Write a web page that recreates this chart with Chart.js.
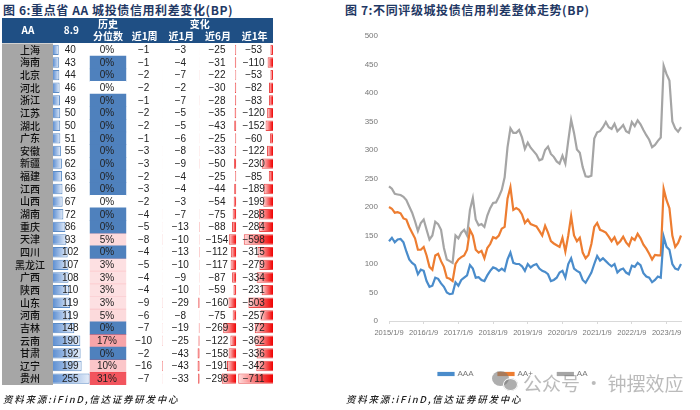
<!DOCTYPE html>
<html lang="zh">
<head>
<meta charset="utf-8">
<title>城投债信用利差</title>
<script src="https://cdn.jsdelivr.net/npm/chart.js@4/dist/chart.umd.js"></script>
<style>
  body { margin: 0; background: #fff; width: 700px; height: 410px; overflow: hidden; position: relative; font-family: "Noto Sans CJK SC", sans-serif; }
  canvas { position: absolute; }
  .titulo { position: absolute; top: 1px; font-size: 12px; font-weight: 700; color: #1f3864; letter-spacing: 0.6px; white-space: nowrap; }
  .fuente { position: absolute; top: 392px; font-size: 9.5px; font-weight: 500; font-style: italic; color: #222; letter-spacing: 1.75px; white-space: nowrap; }
  .marca { position: absolute; left: 523px; top: 369px; font-size: 19px; color: rgba(120,120,120,.5); white-space: nowrap; }
  .burbuja { position: absolute; border-radius: 50%; background: rgba(120,120,120,.6); }
</style>
</head>
<body>
<div class="titulo" style="left:3px">图 6:重点省 AA 城投债信用利差变化(BP)</div>
<div class="titulo" style="left:345px">图 7:不同评级城投债信用利差整体走势(BP)</div>
<canvas id="tabla" width="292" height="400" style="left:0;top:0"></canvas>
<canvas id="lineas" width="399" height="363" style="left:345px;top:25px"></canvas>
<div class="fuente" style="left:3px">资料来源:iFinD,信达证券研发中心</div>
<div class="fuente" style="left:346px">资料来源:iFinD,信达证券研发中心</div>
<div class="burbuja" style="left:492px;top:371px;width:17px;height:15px"></div>
<div class="burbuja" style="left:503px;top:378px;width:15px;height:13px;outline:1px solid #fff;outline-offset:-1px"></div>
<div class="marca">公众号 · 钟摆效应</div>
<script>
// tabla figura 6
const provincias = ["上海","海南","北京","河北","浙江","江苏","湖北","广东","安徽","新疆","福建","江西","山西","湖南","重庆","天津","四川","黑龙江","广西","陕西","山东","河南","吉林","云南","甘肃","辽宁","贵州"];
const spread89 = [40,43,44,46,49,50,50,51,55,62,63,66,67,72,86,93,102,107,108,110,119,119,148,190,192,199,255];
const percentil = [0,0,0,0,0,0,0,0,0,0,0,0,0,0,0,5,0,3,3,3,3,5,0,17,0,10,31];
const sinColor = ["上海","河北","山西"];
const semana1 = [-1,-1,-2,-2,-1,-2,-2,-1,-3,-3,-2,-3,-2,-4,-5,-8,-4,-5,-4,-4,-9,-6,-7,-10,-2,-16,-7];
const mes1 = [-3,-4,-7,-2,-7,-5,-5,-6,-8,-9,-4,-4,-3,-7,-13,-10,-13,-10,-9,-10,-29,-8,-19,-25,-43,-43,-33];
const mes6 = [-25,-31,-22,-30,-28,-35,-43,-25,-33,-50,-25,-44,-54,-75,-88,-154,-112,-117,-87,-59,-160,-75,-269,-122,-158,-191,-298];
const anio1 = [-53,-110,-53,-82,-83,-120,-152,-60,-122,-230,-85,-189,-199,-288,-284,-598,-315,-279,-334,-231,-503,-257,-372,-362,-336,-342,-711];

// grafico figura 7, un punto por mes
const anios = [2015,2016,2017,2018,2019,2020,2021,2022,2023];
const fechas = [];
anios.forEach(a => {
    for (let m = 1; m <= 12; m++) {
        if (a === 2023 && m > 6) break;
        fechas.push(`${a}/${m}/9`);
    }
});
const serieAAA = [140,146,138,143,144,138,122,108,102,98,82,90,88,70,60,62,76,74,66,60,50,47,48,68,62,72,76,80,98,92,76,77,72,70,80,88,94,92,88,92,88,108,120,102,100,100,96,88,100,94,98,100,92,88,86,82,70,72,76,85,88,76,100,110,92,88,85,72,67,76,85,100,114,106,110,105,100,96,100,85,90,92,85,82,97,95,102,98,84,78,76,68,72,78,76,148,130,125,100,92,90,100];
const serieAAmas = [200,197,190,191,189,180,178,165,155,145,125,125,130,115,95,90,115,118,105,95,76,74,70,100,108,112,115,125,160,150,125,120,123,110,128,135,147,145,150,162,165,215,235,195,198,195,187,172,178,170,168,166,158,150,167,155,140,136,133,130,146,122,150,184,150,140,146,120,110,116,135,165,172,160,158,155,148,140,147,135,140,148,138,132,146,142,153,145,134,127,118,108,116,115,115,232,212,198,150,130,137,150];
const serieAA = [236,232,223,222,221,218,212,201,190,175,158,172,178,160,143,150,174,170,160,128,108,105,102,150,145,155,160,150,195,216,178,168,170,165,185,198,207,208,218,230,252,305,338,330,330,335,322,302,313,304,298,292,282,284,300,306,293,288,280,276,290,276,316,353,330,301,295,270,254,253,255,320,331,333,340,349,340,337,346,333,338,344,333,330,349,342,352,345,335,326,318,305,309,316,322,448,433,422,350,338,332,340];

const azulCelda = "#4f81bd";
const primerMes = "1";

function colorCelda(ctx) {
    const i = ctx.dataIndex;
    const p = percentil[i];
    if (p === 0) return sinColor.includes(provincias[i]) ? "#ffffff" : azulCelda;
    return `rgba(240,60,70,${0.12 + 0.75 * Math.pow(p / 31, 1.3)})`;
}

// degradado a lo largo de cada barra
function degradado(colorCero, colorPunta) {
    return ctx => {
        const eje = ctx.chart.scales[ctx.dataset.xAxisID];
        const x0 = eje.getPixelForValue(0);
        const x1 = eje.getPixelForValue(ctx.raw);
        if (!isFinite(x0) || !isFinite(x1)) return colorCero; // todavia sin layout
        const g = ctx.chart.ctx.createLinearGradient(x0, 0, x1, 0);
        g.addColorStop(0, colorCero);
        g.addColorStop(1, colorPunta);
        return g;
    };
}

function ejeColumna(min, max) {
    return {
        type: "linear", stack: "columnas", stackWeight: 1, position: "bottom", min, max,
        ticks: { display: false }, grid: { display: false }, border: { display: false }
    };
}

function barraRoja(datos, eje) {
    return {
        data: datos, xAxisID: eje, grouped: false, barPercentage: 0.82, categoryPercentage: 1,
        backgroundColor: degradado("#f00000", "#ffdcdc"), borderColor: "#e84a4a", borderWidth: 1
    };
}

const columnas = [
    { eje: "x89", datos: spread89 },
    { eje: "xPct", datos: percentil, fmt: v => `${v}%` },
    { eje: "xSem", datos: semana1 },
    { eje: "xMes", datos: mes1 },
    { eje: "x6m", datos: mes6 },
    { eje: "x1a", datos: anio1 }
];

const encabezado = {
    id: "encabezado",
    afterDraw(chart) {
        const c = chart.ctx;
        const s = chart.scales;
        const centro = id => (s[id].left + s[id].right) / 2;
        const area = chart.chartArea;

        c.save();
        c.fillStyle = "#1f4f84";
        c.fillRect(2, 18, area.right - 2, 25);
        c.fillStyle = "#fff";
        c.textAlign = "center";
        c.textBaseline = "middle";
        c.font = '700 10px "Noto Sans CJK SC"';
        c.fillText("AA", 28, 30);
        c.fillText("8.9", centro("x89"), 30);
        c.fillText("历史", centro("xPct"), 24);
        c.fillText("分位数", centro("xPct"), 36);
        c.fillText("变化", (centro("xMes") + centro("x6m")) / 2, 24);
        c.fillText("近1周", centro("xSem"), 36);
        c.fillText("近1月", centro("xMes"), 36);
        c.fillText("近6月", centro("x6m"), 36);
        c.fillText("近1年", centro("x1a"), 36);

        // numeros de cada celda
        c.fillStyle = "#222";
        c.font = '10px "Liberation Sans"';
        columnas.forEach(col => {
            col.datos.forEach((v, i) => {
                const txt = col.fmt ? col.fmt(v) : String(v).replace("-", "\u2212");
                c.fillText(txt, centro(col.eje) - 1, s.y.getPixelForValue(i) + 0.5);
            });
        });
        c.restore();
    }
};

new Chart(document.getElementById("tabla"), {
    type: "bar",
    data: {
        labels: provincias,
        datasets: [
            {
                data: spread89, xAxisID: "x89", grouped: false, barPercentage: 0.82, categoryPercentage: 1,
                backgroundColor: degradado("#5f90d2", "#e6eefa"), borderColor: "#5b8bc5", borderWidth: 1
            },
            {
                data: provincias.map(() => 1), xAxisID: "xPct", grouped: false, barPercentage: 1, categoryPercentage: 1,
                backgroundColor: colorCelda
            },
            barraRoja(semana1, "xSem"),
            barraRoja(mes1, "xMes"),
            barraRoja(mes6, "x6m"),
            barraRoja(anio1, "x1a")
        ]
    },
    options: {
        indexAxis: "y",
        responsive: false,
        animation: false,
        layout: { padding: { left: 2, right: 19, top: 43.5, bottom: 7 } },
        plugins: { legend: { display: false }, tooltip: { enabled: false } },
        scales: {
            y: {
                type: "category",
                backgroundColor: "#a6a6a6",
                grid: { display: false },
                border: { display: false },
                ticks: { color: "#111", font: { family: "Noto Sans CJK SC", size: 10, weight: 500 }, crossAlign: "center", padding: 0, autoSkip: false },
                afterFit(s) { s.width = 51; }
            },
            x89: ejeColumna(0, 255),
            xPct: ejeColumna(0, 1),
            xSem: ejeColumna(-750, 0),
            xMes: ejeColumna(-750, 0),
            x6m: ejeColumna(-750, 0),
            x1a: ejeColumna(-750, 0)
        }
    },
    plugins: [encabezado]
});

new Chart(document.getElementById("lineas"), {
    type: "line",
    data: {
        labels: fechas,
        datasets: [
            { label: "AAA", data: serieAAA, borderColor: "#4a8ccb", backgroundColor: "#4a8ccb", borderWidth: 2.2, pointRadius: 0 },
            { label: "AA+", data: serieAAmas, borderColor: "#ed7d31", backgroundColor: "#ed7d31", borderWidth: 2.2, pointRadius: 0 },
            { label: "AA", data: serieAA, borderColor: "#a5a5a5", backgroundColor: "#a5a5a5", borderWidth: 2.2, pointRadius: 0 }
        ]
    },
    options: {
        responsive: false,
        animation: false,
        layout: { padding: { top: 11, right: 63, bottom: 0 } },
        plugins: {
            tooltip: { enabled: false },
            legend: {
                position: "bottom",
                labels: { boxWidth: 15, boxHeight: 2, padding: 25, color: "#777", font: { family: "Liberation Sans Narrow, Liberation Sans", size: 8 } }
            }
        },
        scales: {
            x: {
                grid: {
                    drawOnChartArea: false, tickLength: 3,
                    color: ctx => ctx.tick && fechas[ctx.index].split("/")[1] === primerMes ? "#d9d9d9" : "transparent"
                },
                border: { color: "#d9d9d9" },
                ticks: {
                    autoSkip: false, maxRotation: 0, color: "#777", padding: 4,
                    font: { family: "Liberation Sans Narrow, Liberation Sans", size: 7.5 },
                    callback(v) {
                        const f = this.getLabelForValue(v);
                        return f.split("/")[1] === primerMes ? f : "";
                    }
                },
                afterFit(s) { s.height = 24; }
            },
            y: {
                min: 0, max: 500,
                grid: { display: false },
                border: { display: false },
                ticks: { stepSize: 50, color: "#777", font: { family: "Liberation Sans Narrow, Liberation Sans", size: 8 } },
                afterFit(s) { s.width = 44; }
            }
        }
    }
});
</script>
</body>
</html>
